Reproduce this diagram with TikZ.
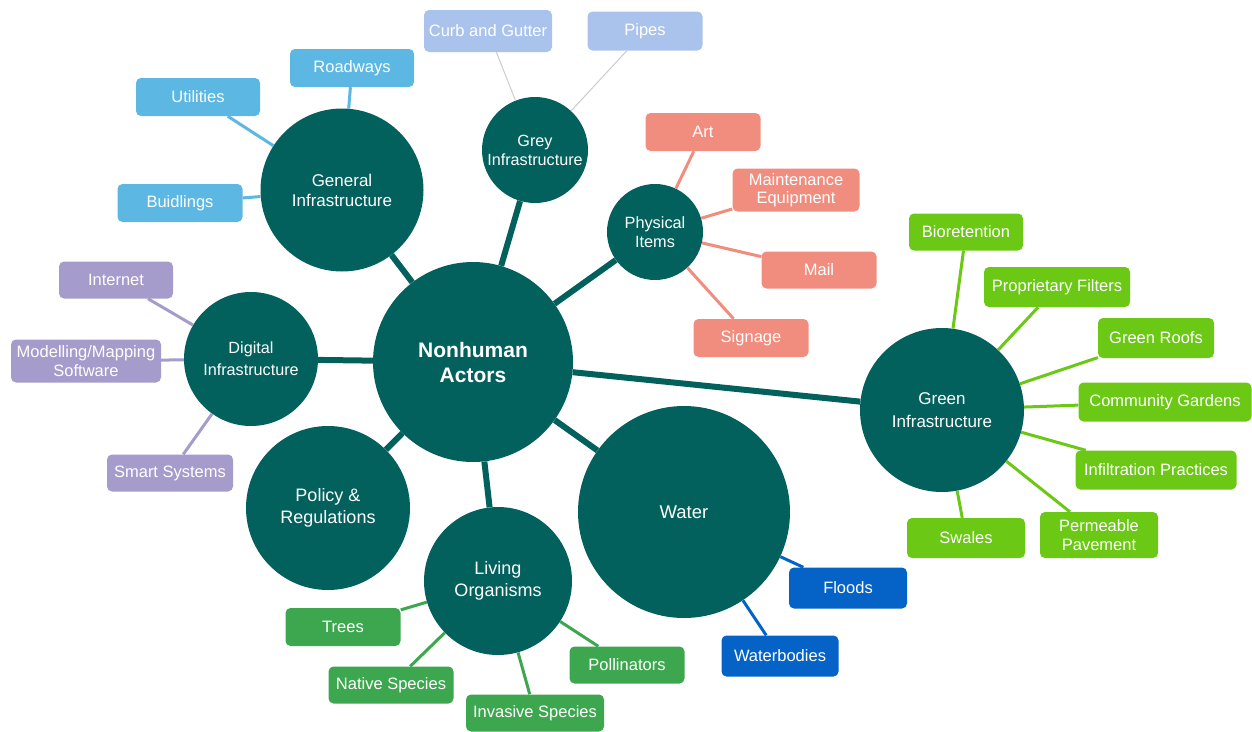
\documentclass[tikz,border=0pt]{standalone}
\usepackage{fontspec}
\setmainfont{Liberation Sans}
\definecolor{teal}{HTML}{02605D}
\definecolor{skyb}{HTML}{5CB8E2}
\definecolor{greyb}{HTML}{A9C3EC}
\definecolor{salmon}{HTML}{F08D7E}
\definecolor{lime}{HTML}{6BC814}
\definecolor{lav}{HTML}{A59CCB}
\definecolor{livg}{HTML}{3DA74F}
\definecolor{wblue}{HTML}{0563C8}
\definecolor{thin}{HTML}{C9CDD2}
\tikzset{
  hub/.style={circle, fill=teal, text=white, inner sep=0pt, align=center},
  leaf/.style={rounded corners=5pt, text=white, inner sep=0pt, align=center,
    font=\fontsize{16.5}{18.5}\selectfont},
  mainlink/.style={draw=teal, line width=6pt},
  sublink/.style={line width=3pt},
}
\newcommand{\lf}[6]{\node[leaf, fill=#1, minimum width=#4pt, minimum height=#5pt] (#2) at (#3) {#6};}
\begin{document}
\begin{tikzpicture}[x=1pt,y=-1pt]
\useasboundingbox (0,0) rectangle (1252,731);
% hubs
\node[hub, minimum size=200pt, font=\bfseries\fontsize{21}{25}\selectfont] (nh) at (473,362) {Nonhuman\\Actors};
\node[hub, minimum size=163pt, font=\fontsize{17}{20}\selectfont] (gen) at (342,190) {General\\Infrastructure};
\node[hub, minimum size=106pt, font=\fontsize{16.2}{19}\selectfont] (grey) at (535,150) {Grey\\Infrastructure};
\node[hub, minimum size=96pt, font=\fontsize{16.3}{19}\selectfont] (phys) at (655,232) {Physical\\Items};
\node[hub, minimum size=134pt, font=\fontsize{16.2}{22}\selectfont] (dig) at (251,359) {Digital\\Infrastructure};
\node[hub, minimum size=164pt, font=\fontsize{18}{22}\selectfont] (pol) at (328,508) {Policy \&\\Regulations};
\node[hub, minimum size=148pt, font=\fontsize{18}{22}\selectfont] (liv) at (498,581) {Living\\Organisms};
\node[hub, minimum size=212pt, font=\fontsize{18.5}{22}\selectfont] (wat) at (684,512) {Water};
\node[hub, minimum size=164pt, font=\fontsize{17}{23}\selectfont] (grn) at (942,410) {Green\\Infrastructure};
% leaves
\lf{skyb}{road}{352,68}{124}{38}{Roadways}
\lf{skyb}{util}{198,97}{124}{38}{Utilities}
\lf{skyb}{bldg}{180,203}{125}{38}{Buidlings}
\lf{greyb}{curb}{488,31}{128}{42}{Curb and Gutter}
\lf{greyb}{pipe}{645,31}{115}{39}{Pipes}
\lf{salmon}{art}{703,132}{115}{38}{Art}
\lf{salmon}{maint}{796,190}{127}{43}{Maintenance\\Equipment}
\lf{salmon}{mail}{819,270}{115}{37}{Mail}
\lf{salmon}{sign}{751,338}{115}{38}{Signage}
\lf{lime}{bio}{966,232}{114}{37}{Bioretention}
\lf{lime}{prop}{1057,287}{146}{40}{Proprietary Filters}
\lf{lime}{roof}{1156,338}{116}{40}{Green Roofs}
\lf{lime}{comm}{1165,402}{173}{39}{Community Gardens}
\lf{lime}{infil}{1156,470}{161}{39}{Infiltration Practices}
\lf{lime}{perm}{1099,535}{118}{46}{Permeable\\Pavement}
\lf{lime}{swal}{966,538}{118}{40}{Swales}
\lf{lav}{inet}{116,280}{114}{37}{Internet}
\lf{lav}{model}{86,361}{150}{43}{Modelling/Mapping\\Software}
\lf{lav}{smart}{170,473}{126}{37}{Smart Systems}
\lf{livg}{tree}{343,627}{115}{38}{Trees}
\lf{livg}{nat}{391,685}{125}{37}{Native Species}
\lf{livg}{inv}{535,713}{138}{37}{Invasive Species}
\lf{livg}{poll}{627,665}{115}{37}{Pollinators}
\lf{wblue}{flood}{848,588}{118}{41}{Floods}
\lf{wblue}{wbod}{780,656}{117}{41}{Waterbodies}
% connectors
\foreach \h in {gen,grey,phys,dig,pol,liv,wat,grn} {\draw[mainlink] (nh) -- (\h);}
\foreach \b in {road,util,bldg} {\draw[sublink, draw=skyb] (\b) -- (gen);}
\foreach \b in {curb,pipe} {\draw[draw=thin, line width=1pt] (\b) -- (grey);}
\foreach \b in {art,maint,mail,sign} {\draw[sublink, draw=salmon] (\b) -- (phys);}
\foreach \b in {bio,prop,roof,comm,infil,perm,swal} {\draw[sublink, draw=lime] (\b) -- (grn);}
\foreach \b in {inet,model,smart} {\draw[sublink, draw=lav] (\b) -- (dig);}
\foreach \b in {tree,nat,inv,poll} {\draw[sublink, draw=livg] (\b) -- (liv);}
\foreach \b in {flood,wbod} {\draw[sublink, draw=wblue] (\b) -- (wat);}
\end{tikzpicture}
\end{document}
